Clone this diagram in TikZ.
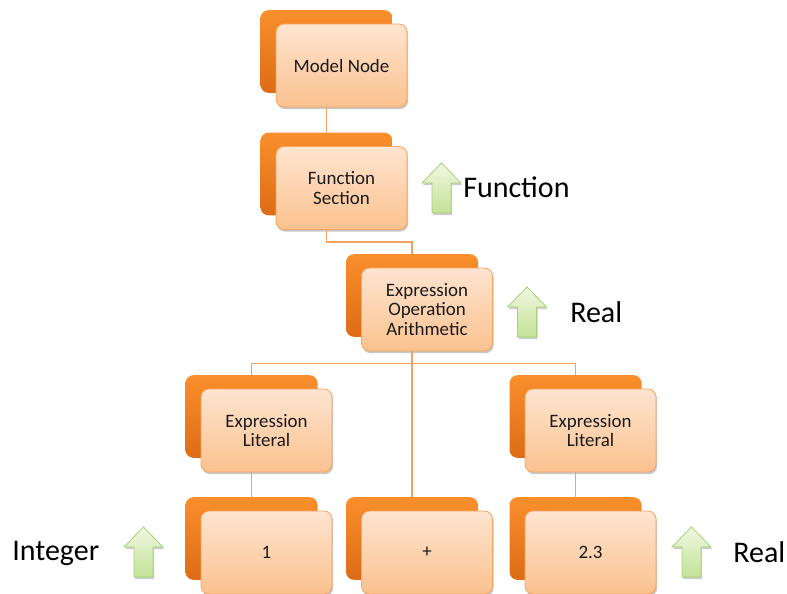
\documentclass[tikz,border=0pt]{standalone}
\usepackage{fontspec}
\setmainfont{Carlito}
\usetikzlibrary{calc,shadows}

\definecolor{backtop}{HTML}{FA8F2C}
\definecolor{backbot}{HTML}{DC6C16}
\definecolor{fronttop}{HTML}{FEE4D0}
\definecolor{frontbot}{HTML}{FBC28F}
\definecolor{frontline}{HTML}{F4A560}
\definecolor{linkline}{HTML}{F3A262}
\definecolor{arrtop}{HTML}{F0F8E2}
\definecolor{arrbot}{HTML}{C3E296}
\definecolor{arrline}{HTML}{AACF78}
\definecolor{txt}{HTML}{1A1A1A}

\tikzset{
  backbox/.style={rectangle, rounded corners=6pt, minimum width=99pt,
    minimum height=62pt, top color=backtop, bottom color=backbot, draw=none},
  frontbox/.style={rectangle, rounded corners=6pt, minimum width=98.25pt,
    minimum height=62.25pt, top color=fronttop, bottom color=frontbot,
    draw=frontline, line width=0.6pt, text=txt, align=center,
    font=\fontsize{14.2}{14.6}\selectfont,
    drop shadow={shadow xshift=0.8pt, shadow yshift=-1.6pt, opacity=0.22, fill=black}},
  link/.style={draw=linkline, line width=0.9pt},
  typelabel/.style={anchor=base west, inner sep=0pt, text=black,
    font=\fontsize{22.5}{24}\selectfont},
  arrowfill/.style={top color=arrtop, bottom color=arrbot, draw=arrline,
    line width=0.6pt, line join=miter,
    drop shadow={shadow xshift=0.8pt, shadow yshift=-1.6pt, opacity=0.2, fill=black}},
  uparrow/.pic={
    \path[arrowfill] (0,0) -- (19.5,20) -- (9.5,20) -- (9.5,50)
      -- (-9.5,50) -- (-9.5,20) -- (-19.5,20) -- cycle;
  }
}

% a stacked pair: dark back card offset up-left, light front card with text
\newcommand\cardpair[3]{%
  \node[backbox] (#1b) at ($(#2)+(-15,-14)$) {};
  \node[frontbox] (#1) at (#2) {#3};
}

\begin{document}
\begin{tikzpicture}[x=0.75pt, y=-0.75pt]
  \useasboundingbox (0,0) rectangle (787,593);

  % cards
  \cardpair{mn}{341.5,65.5}{Model Node}
  \cardpair{fs}{341.5,188}{Function\\Section}
  \cardpair{eo}{427,309.5}{Expression\\Operation\\Arithmetic}
  \cardpair{ll}{266.5,430.5}{Expression\\Literal}
  \cardpair{rl}{590.5,430.5}{Expression\\Literal}
  \cardpair{one}{266.5,552.5}{1}
  \cardpair{plus}{427,552.5}{+}
  \cardpair{real}{590.5,552.5}{2.3}

  % connectors between the cards
  \draw[link] (mn.south -| fsb.north) -- (fsb.north);
  \draw[link] (fs.south -| fsb.north) |- ($(fs.south)!0.5!(eob.north)$) -| (eob.north);
  \coordinate (bus) at ($(eo.south -| eob.north)+(0,12)$);
  \draw[link] (eo.south -| eob.north) -- (plusb.north);
  \draw[link] (llb.north) -- (llb.north |- bus) -- (rlb.north |- bus) -- (rlb.north);
  \draw[link] (ll.south -| oneb.north) -- (oneb.north);
  \draw[link] (rl.south -| realb.north) -- (realb.north);

  % type arrows and labels
  \pic at (441.5,163) {uparrow};
  \node[typelabel] (tfunc) at (463,197) {Function};
  \pic at (527,287) {uparrow};
  \node[typelabel] (treal) at (570,322) {Real};
  \pic at (143.5,527) {uparrow};
  \node[typelabel] (tint) at (12,560) {Integer};
  \pic at (691.5,527) {uparrow};
  \node[typelabel] (treal2) at (733,562) {Real};
\end{tikzpicture}
\end{document}
